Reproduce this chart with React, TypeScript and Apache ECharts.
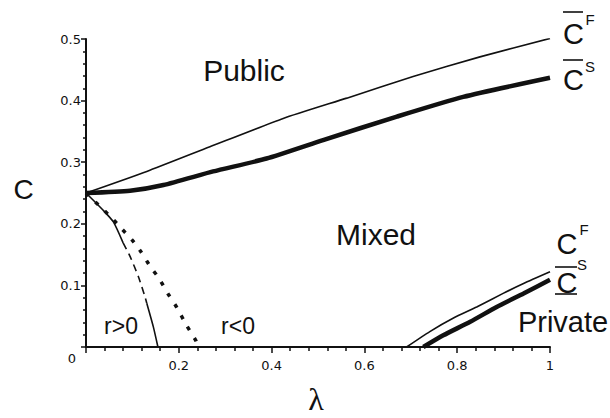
import React, { useEffect, useRef } from "react";
import * as echarts from "echarts";

// Tick labels
const xTickLabels = ["0", "0.2", "0.4", "0.6", "0.8", "1"];
const yTickLabels = ["0", "0.1", "0.2", "0.3", "0.4", "0.5"];

// Upper boundaries (public / mixed)
const cFUpper: number[][] = [
  [0, 0.25], [0.131, 0.285], [0.267, 0.325], [0.425, 0.371], [0.562, 0.404],
  [0.705, 0.439], [0.849, 0.471], [1.0, 0.501],
];
const cSUpper: number[][] = [
  [0, 0.25], [0.095, 0.2537], [0.167, 0.263], [0.274, 0.285], [0.389, 0.306],
  [0.511, 0.336], [0.67, 0.374], [0.813, 0.406], [1.0, 0.437],
];

// Lower boundaries (mixed / private)
const cFLower: number[][] = [
  [0.691, 0], [0.741, 0.025], [0.792, 0.047], [0.842, 0.065], [0.899, 0.087],
  [0.943, 0.103], [1.0, 0.122],
];
const cSLower: number[][] = [
  [0.727, 0], [0.77, 0.019], [0.828, 0.041], [0.885, 0.065], [0.943, 0.087],
  [1.0, 0.109],
];

// r > 0 curve (solid / dashed / solid pieces)
const rPosTop: number[][] = [[0, 0.25], [0.037, 0.222], [0.059, 0.203], [0.08, 0.169]];
const rPosMid: number[][] = [[0.08, 0.169], [0.095, 0.147], [0.113, 0.114], [0.127, 0.082], [0.131, 0.071]];
const rPosBottom: number[][] = [[0.131, 0.071], [0.145, 0.033], [0.155, 0]];

// r < 0 curve (dotted)
const rNeg: number[][] = [
  [0, 0.25], [0.055, 0.21], [0.073, 0.195], [0.099, 0.174], [0.118, 0.155],
  [0.14, 0.129], [0.156, 0.113], [0.177, 0.086], [0.196, 0.064], [0.216, 0.036],
  [0.237, 0.01], [0.241, 0],
];

const INK = "#111";
const SANS = "Liberation Sans, Arial, sans-serif";

function lineSeries(data: number[][], width: number, type: any = "solid") {
  return {
    type: "line",
    data,
    showSymbol: false,
    symbol: "none",
    smooth: 0.2,
    silent: true,
    lineStyle: { color: INK, width, type, cap: "butt" },
  };
}

export default function App() {
  const ref = useRef<HTMLDivElement>(null);
  useEffect(() => {
    if (!ref.current) return;
    const chart = echarts.init(ref.current, null, { renderer: "svg" });
    const txt = (text: string, x: number, y: number, size: number, extra: any = {}) => ({
      type: "text",
      x,
      y,
      style: {
        text,
        fill: INK,
        font: `${size}px ${extra.family || SANS}`,
        textAlign: extra.align || "center",
        textVerticalAlign: "middle",
      },
    });
    const ln = (x1: number, y1: number, x2: number, y2: number) => ({
      type: "line",
      shape: { x1, y1, x2, y2 },
      style: { stroke: INK, lineWidth: 1.6 },
    });
    chart.setOption({
      animation: false,
      backgroundColor: "#fff",
      grid: { left: 86, right: 60, top: 39, bottom: 71, containLabel: false, outerBoundsMode: "none" },
      xAxis: {
        type: "value",
        min: 0,
        max: 1,
        interval: 0.2,
        splitLine: { show: false },
        axisLine: { show: true, lineStyle: { color: INK, width: 2 } },
        axisTick: { show: true, length: 6, lineStyle: { color: INK, width: 1.5 } },
        minorTick: { show: true, splitNumber: 5, length: 4, lineStyle: { color: INK, width: 1.5 } },
        minorSplitLine: { show: false },
        axisLabel: {
          margin: 12,
          color: INK,
          fontFamily: "DejaVu Sans",
          fontSize: 13,
          formatter: (_v: number, i: number) => (i === 0 ? "" : xTickLabels[i]),
        },
      },
      yAxis: {
        type: "value",
        min: 0,
        max: 0.5,
        interval: 0.1,
        splitLine: { show: false },
        axisLine: { show: true, lineStyle: { color: INK, width: 2 } },
        axisTick: { show: true, length: 5, lineStyle: { color: INK, width: 1.5 } },
        minorTick: { show: true, splitNumber: 5, length: 3, lineStyle: { color: INK, width: 1.5 } },
        minorSplitLine: { show: false },
        axisLabel: {
          margin: 5,
          color: INK,
          fontFamily: "DejaVu Sans",
          fontSize: 13,
          formatter: (_v: number, i: number) => (i === 0 ? `{z|${yTickLabels[0]}}` : yTickLabels[i]),
          rich: { z: { padding: [22, 5, 0, 0], fontFamily: "DejaVu Sans", fontSize: 13, color: INK } },
        },
      },
      series: [
        lineSeries(cFUpper, 1.6),
        lineSeries(cSUpper, 4.5),
        lineSeries(cFLower, 1.6),
        lineSeries(cSLower, 4.5),
        lineSeries(rPosTop, 1.6),
        lineSeries(rPosMid, 1.6, [7, 5]),
        lineSeries(rPosBottom, 1.6),
        lineSeries(rNeg, 3.5, [4, 9]),
      ],
      graphic: [
        txt("C", 23.5, 189, 28),
        txt("λ", 316, 399, 32, { family: "Liberation Serif, serif" }),
        txt("Public", 244, 70, 30),
        txt("Mixed", 376, 234, 30),
        txt("Private", 563, 322, 29),
        txt("r>0", 121, 326, 23),
        txt("r<0", 238, 326, 23),
        // upper-right labels
        ln(563, 12, 583, 12),
        txt("C", 573.5, 34, 29),
        txt("F", 590, 19, 15),
        ln(563, 60, 583, 60),
        txt("C", 573.5, 80, 29),
        txt("S", 590, 66, 15),
        // lower-right labels
        txt("C", 567, 244, 29),
        txt("F", 584, 229, 15),
        ln(555, 267, 577, 267),
        txt("S", 582, 264, 15),
        txt("C", 567, 283, 29),
        ln(555, 294, 577, 294),
      ],
    });
    return () => chart.dispose();
  }, []);
  return <div ref={ref} style={{ width: 610, height: 418, position: "absolute", left: 0, top: 0 }} />;
}
